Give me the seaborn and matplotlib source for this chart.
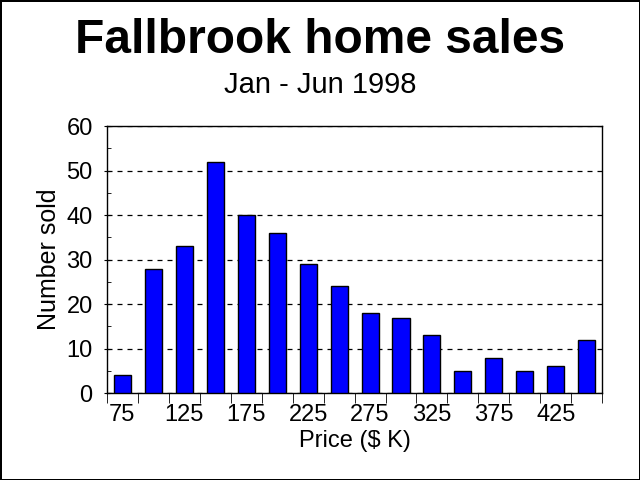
import pandas as pd
import seaborn as sns
import matplotlib.pyplot as plt
from matplotlib.ticker import MultipleLocator, FixedLocator

# Price bins ($ K) and number of homes sold in each
prices = [75, 100, 125, 150, 175, 200, 225, 250, 275, 300, 325, 350, 375, 400, 425, 450]
counts = [4, 28, 33, 52, 40, 36, 29, 24, 18, 17, 13, 5, 8, 5, 6, 12]
shown_labels = ['75', '125', '175', '225', '275', '325', '375', '425']

data = pd.DataFrame({'price': [str(p) for p in prices], 'sold': counts})

sns.set_style('white')
plt.rcParams['font.family'] = ['Liberation Sans', 'DejaVu Sans']
plt.rcParams['text.color'] = 'black'
plt.rcParams['axes.labelcolor'] = 'black'
plt.rcParams['xtick.color'] = 'black'
plt.rcParams['ytick.color'] = 'black'

fig = plt.figure(figsize=(6.4, 4.8), dpi=100)
fig.patch.set_edgecolor('black')
fig.patch.set_linewidth(2)
ax = fig.add_axes([0.167, 0.181, 0.774, 0.556])

sns.barplot(data=data, x='price', y='sold', color='#0000ff', saturation=1,
            edgecolor='black', linewidth=1, width=0.55, ax=ax, zorder=3)

# y axis
ax.set_ylim(0, 60)
ax.yaxis.set_major_locator(MultipleLocator(10))
ax.yaxis.set_minor_locator(MultipleLocator(5))
ax.yaxis.grid(True, which='major', color='black', linestyle=(0, (4, 4)), linewidth=0.9)
ax.tick_params(axis='y', which='major', length=4.5, direction='inout', left=True,
               labelsize=17, pad=8)
ax.tick_params(axis='y', which='minor', length=3, direction='in', left=True)

# x axis: labels on every other bar, ticks between bars
ax.set_xlim(-0.5, len(prices) - 0.5)
ax.set_xticks(range(0, len(prices), 2))
ax.set_xticklabels(shown_labels)
ax.xaxis.set_minor_locator(FixedLocator([i - 0.5 for i in range(len(prices) + 1)]))
ax.tick_params(axis='x', which='major', length=0, labelsize=17, pad=8)
ax.tick_params(axis='x', which='minor', length=7, direction='out', bottom=True)

for s in ax.spines.values():
    s.set_visible(True)
    s.set_color('black')
    s.set_linewidth(1)

ax.set_xlabel('Price ($ K)', fontsize=17, labelpad=3)
ax.set_ylabel('Number sold', fontsize=18, labelpad=4)

fig.text(0.5, 0.8896, 'Fallbrook home sales', ha='center', va='baseline',
         fontsize=34.5, fontweight='bold')
fig.text(0.5, 0.806, 'Jan - Jun 1998', ha='center', va='baseline', fontsize=21)

plt.savefig('out.png', dpi=100)
